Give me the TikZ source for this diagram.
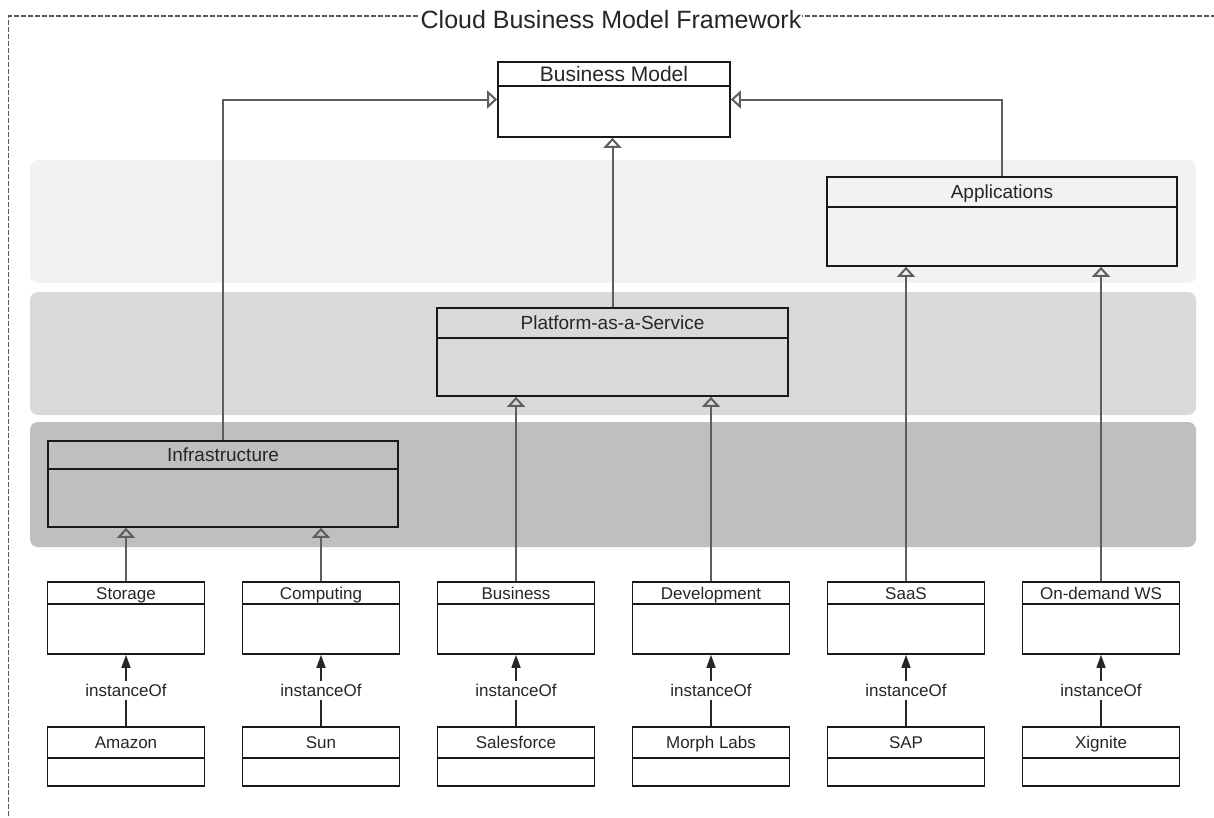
\documentclass[tikz,border=0pt]{standalone}
\usepackage{fontspec}
\setmainfont{Liberation Sans}
\usetikzlibrary{arrows.meta}
\definecolor{bandA}{HTML}{F2F2F2}
\definecolor{bandB}{HTML}{D9D9D9}
\definecolor{bandC}{HTML}{BFBFBF}
\definecolor{txt}{HTML}{262626}
\definecolor{conn}{HTML}{5E5E5E}
\definecolor{framec}{HTML}{5A5A5A}
\begin{document}
\begin{tikzpicture}[x=1pt,y=-1pt,
  band/.style={rounded corners=8pt, draw=none},
  cls/.style={draw=black!90, line width=1.7pt, inner sep=0pt},
  hdrline/.style={draw=black!90, line width=1.7pt},
  lblBM/.style={text=txt, inner sep=0pt, text height=15pt, text depth=0pt, font=\fontsize{21}{25}\selectfont},
  lblL/.style={text=txt, inner sep=0pt, text height=13.6pt, text depth=0pt, font=\fontsize{19}{23}\selectfont},
  lblS/.style={text=txt, inner sep=0pt, text height=12.2pt, text depth=0pt, font=\fontsize{17}{20}\selectfont},
  gen/.style={draw=conn, line width=2pt, -{Triangle[open,length=10pt,width=18pt]}},
  inst/.style={draw=black!85, line width=1.6pt, -{Triangle[length=13pt,width=9pt]}},
  instlbl/.style={fill=white, text=txt, inner sep=3pt, text height=12.2pt, text depth=0pt, font=\fontsize{17}{20}\selectfont},
  titlelbl/.style={fill=white, text=txt, inner xsep=1pt, inner ysep=2pt, text height=18pt, text depth=0pt, font=\fontsize{25}{30}\selectfont},
  framebox/.style={draw=framec, line width=1.6pt, dash pattern=on 5pt off 2pt},
]
\useasboundingbox (0,0) rectangle (1214,817);
\clip (0,0) rectangle (1214,817);
\fill[white] (0,0) rectangle (1214,817);

% frame
\draw[framebox] (1230,16) -- (8.5,16) -- (8.5,830);
\node[titlelbl] (title) at (611,19) {Cloud Business Model Framework};

% bands
\fill[band, bandA] (30,160) rectangle (1196,283);
\fill[band, bandB] (30,292) rectangle (1196,415);
\fill[band, bandC] (30,422) rectangle (1196,547);

% big classes
\node[cls, minimum width=232pt, minimum height=75pt] (bm) at (614,99.5) {};
\draw[hdrline] (bm.west |- 0,86) -- (bm.east |- 0,86);
\node[lblBM] (bmt) at (614,74) {Business Model};

\node[cls, minimum width=350pt, minimum height=89pt] (app) at (1002,221.5) {};
\draw[hdrline] (app.west |- 0,207) -- (app.east |- 0,207);
\node[lblL] (appt) at (1002,192) {Applications};

\node[cls, minimum width=351pt, minimum height=88pt] (paas) at (612.5,352) {};
\draw[hdrline] (paas.west |- 0,338) -- (paas.east |- 0,338);
\node[lblL] (paast) at (612.5,323) {Platform-as-a-Service};

\node[cls, minimum width=350pt, minimum height=86pt] (infra) at (223,484) {};
\draw[hdrline] (infra.west |- 0,469) -- (infra.east |- 0,469);
\node[lblL] (infrat) at (223,455) {Infrastructure};

% small classes
\foreach \n/\x/\t in {st/126/Storage, cp/321/Computing, bu/516/Business, dv/711/Development, sa/906/SaaS, od/1101/On-demand WS}{
  \node[cls, fill=white, minimum width=157pt, minimum height=72pt] (\n) at (\x,618) {};
  \draw[hdrline] (\n.west |- 0,604) -- (\n.east |- 0,604);
  \node[lblS] (\n t) at (\x,593) {\t};
}
% instances
\foreach \n/\x/\t in {am/126/Amazon, su/321/Sun, sf/516/Salesforce, ml/711/Morph Labs, sp/906/SAP, xg/1101/Xignite}{
  \node[cls, line width=1.4pt, fill=white, minimum width=157pt, minimum height=59pt] (\n) at (\x,756.5) {};
  \draw[hdrline, line width=1.4pt] (\n.west |- 0,758) -- (\n.east |- 0,758);
  \node[lblS] (\n t) at (\x,742.5) {\t};
}

% generalization connectors
\draw[gen] (infra.north) |- (bm.west);
\draw[gen] (app.north) |- (bm.east);
\draw[gen] (paas.north) -- (paas.north |- bm.south);
\draw[gen] (st.north) -- (st.north |- infra.south);
\draw[gen] (cp.north) -- (cp.north |- infra.south);
\draw[gen] (bu.north) -- (bu.north |- paas.south);
\draw[gen] (dv.north) -- (dv.north |- paas.south);
\draw[gen] (sa.north) -- (sa.north |- app.south);
\draw[gen] (od.north) -- (od.north |- app.south);

% instanceOf connectors
\draw[inst] (am.north) -- node[instlbl] (i1) {instanceOf} (st.south);
\draw[inst] (su.north) -- node[instlbl] (i2) {instanceOf} (cp.south);
\draw[inst] (sf.north) -- node[instlbl] (i3) {instanceOf} (bu.south);
\draw[inst] (ml.north) -- node[instlbl] (i4) {instanceOf} (dv.south);
\draw[inst] (sp.north) -- node[instlbl] (i5) {instanceOf} (sa.south);
\draw[inst] (xg.north) -- node[instlbl] (i6) {instanceOf} (od.south);
\end{tikzpicture}
\end{document}
